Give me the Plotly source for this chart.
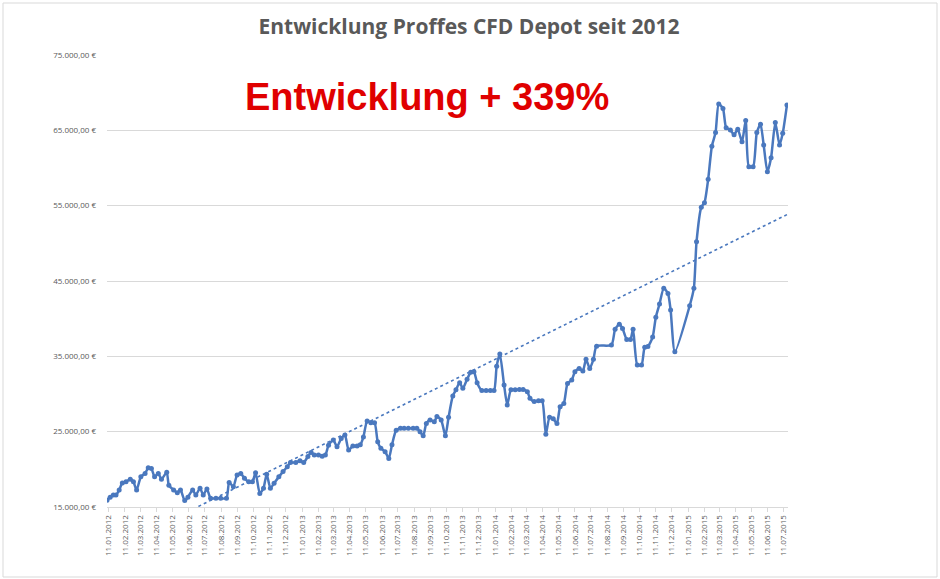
import numpy as np
import pandas as pd
import plotly.graph_objects as go

# ---- data ----
start_date = "2012-01-11"
day_offsets = [
    -3, 3, 9, 14, 20, 26, 33, 41, 47, 53, 61, 69, 75, 81, 87, 94, 100, 110, 114, 123,
    130, 136, 144, 150, 159, 165, 173, 179, 186, 193, 203, 212, 223, 228, 236, 243, 250, 257, 265, 272,
    278, 286, 293, 299, 306, 313, 322, 330, 338, 344, 354, 362, 369, 377, 383, 389, 397, 404, 410, 416,
    425, 432, 440, 447, 454, 462, 470, 476, 482, 489, 496, 503, 509, 515, 523, 530, 536, 544, 552, 559,
    567, 576, 583, 589, 595, 601, 608, 616, 621, 629, 637, 643, 651, 657, 664, 670, 678, 685, 691, 697,
    706, 714, 722, 729, 734, 740, 748, 754, 761, 769, 777, 784, 792, 797, 805, 813, 820, 827, 834, 841,
    848, 854, 861, 868, 876, 882, 890, 897, 903, 910, 917, 923, 951, 958, 966, 972, 980, 987, 992, 1000,
    1008, 1014, 1020, 1029, 1035, 1042, 1050, 1058, 1063, 1071, 1099, 1107, 1112, 1121, 1127, 1134, 1141, 1148, 1154, 1162,
    1168, 1176, 1183, 1190, 1198, 1205, 1211, 1219, 1226, 1233, 1239, 1246, 1253, 1261, 1269, 1275, 1283,
]
depot_values = [
    15900, 16300, 16600, 16600, 17250, 18200, 18350, 18700, 18350, 17250, 19000, 19450, 20200, 20100, 19000, 19450, 18700, 19600, 17900, 17250,
    16900, 17250, 15850, 16300, 17250, 16600, 17500, 16600, 17400, 16150, 16150, 16150, 16150, 18250, 17700, 19250, 19450, 18800, 18350, 18350,
    19550, 16800, 17500, 19350, 17500, 18150, 19000, 19700, 20350, 20900, 20900, 21150, 20900, 21700, 22250, 21900, 21900, 21750, 21900, 23200,
    23900, 23000, 24100, 24550, 22550, 23100, 23100, 23250, 24300, 26400, 26200, 26200, 23650, 22800, 22350, 21450, 23250, 25200, 25450, 25450,
    25450, 25450, 25450, 25000, 24450, 26100, 26550, 26300, 27000, 26550, 24450, 26900, 29750, 30550, 31500, 30750, 31950, 32900, 32950, 31500,
    30450, 30450, 30450, 30450, 33700, 35300, 31200, 28550, 30550, 30550, 30600, 30600, 30300, 29450, 29000, 29100, 29100, 24650, 26900, 26700,
    26100, 28300, 28750, 31400, 31850, 32950, 33400, 33050, 34600, 33400, 34600, 36350, 36500, 38600, 39250, 38700, 37250, 37250, 38600, 33850,
    33850, 36200, 36300, 37550, 40200, 41950, 44050, 43350, 41150, 35600, 41700, 44050, 50200, 54800, 55400, 58500, 62900, 64700, 68500, 67900,
    65350, 65050, 64400, 65150, 63500, 66300, 60150, 60150, 64700, 65800, 63050, 59500, 61350, 66050, 63050, 64600, 68350,
]
first_tick = "2012-01-11"
last_tick = "2015-07-11"
y_min, y_max, y_step = 15000, 75000, 10000
title_text = "Entwicklung Proffes CFD Depot seit 2012"
headline_text = "Entwicklung + 339%"

# ---- derived ----
start = pd.Timestamp(start_date)
dates = [start + pd.Timedelta(days=d) for d in day_offsets]
coef = np.polyfit(np.array(day_offsets, dtype=float), np.array(depot_values, dtype=float), 1)
trend_days = [min(day_offsets), max(day_offsets)]
trend_dates = [start + pd.Timedelta(days=d) for d in trend_days]
trend_vals = [coef[0] * d + coef[1] for d in trend_days]

tickvals = pd.date_range(pd.Timestamp(first_tick) - pd.Timedelta(days=10),
                         pd.Timestamp(last_tick), freq="MS") + pd.Timedelta(days=10)

W, H = 940, 579
ml, mr, mt, mb = 107, 152, 55, 72
pw, ph = W - ml - mr, H - mt - mb

BLUE = "#4A78BE"

fig = go.Figure()
fig.add_trace(go.Scatter(
    x=dates, y=depot_values, mode="lines+markers",
    line=dict(color=BLUE, width=2.5, shape="spline", smoothing=0.6),
    marker=dict(color=BLUE, size=5),
    showlegend=False, hoverinfo="x+y",
))
fig.add_trace(go.Scatter(
    x=trend_dates, y=trend_vals, mode="lines",
    line=dict(color=BLUE, width=1.6, dash="dot"),
    showlegend=False, hoverinfo="skip",
))

fig.update_layout(
    width=W, height=H,
    margin=dict(l=ml, r=mr, t=mt, b=mb),
    paper_bgcolor="white", plot_bgcolor="white",
    separators=",.",
    font=dict(family="Open Sans, sans-serif", color="#595959"),
    title=dict(text="<b>" + title_text + "</b>", x=469 / W, xanchor="center",
               y=1 - 27 / H, yanchor="middle",
               font=dict(family="Open Sans, sans-serif", size=21, color="#595959")),
    xaxis=dict(
        type="date",
        range=[start + pd.Timedelta(days=-3), start + pd.Timedelta(days=1285)],
        tickvals=list(tickvals), tickformat="%d.%m.%Y", tickangle=-90,
        tickfont=dict(size=8, color="#595959"),
        showgrid=False, showline=True, linecolor="#D9D9D9", linewidth=1,
        ticks="outside", ticklen=4, tickcolor="#D9D9D9",
        zeroline=False,
    ),
    yaxis=dict(
        range=[y_min, y_max], tick0=y_min, dtick=y_step,
        tickformat=",.2f", ticksuffix=" €",
        tickfont=dict(size=8, color="#595959"),
        showgrid=True, gridcolor="#D9D9D9", gridwidth=1,
        showline=False, zeroline=False, ticks="", ticklabelstandoff=10,
    ),
)

fig.add_annotation(
    text="<b>" + headline_text + "</b>", xref="paper", yref="paper",
    x=(427 - ml) / pw, y=(H - mb - 97) / ph, xanchor="center", yanchor="middle",
    showarrow=False,
    font=dict(family="Liberation Sans, Arial, sans-serif", size=38, color="#E00000"),
)

# outer chart border
fig.add_shape(type="rect", xref="paper", yref="paper",
              x0=(3 - ml) / pw, x1=(937 - ml) / pw,
              y0=(H - mb - 577) / ph, y1=(H - mb - 3) / ph,
              line=dict(color="#D9D9D9", width=1), fillcolor="rgba(0,0,0,0)", layer="below")

fig.write_html("out.html", config={"displayModeBar": False},
               post_script="document.body.style.margin='0';document.body.style.overflow='hidden';")
